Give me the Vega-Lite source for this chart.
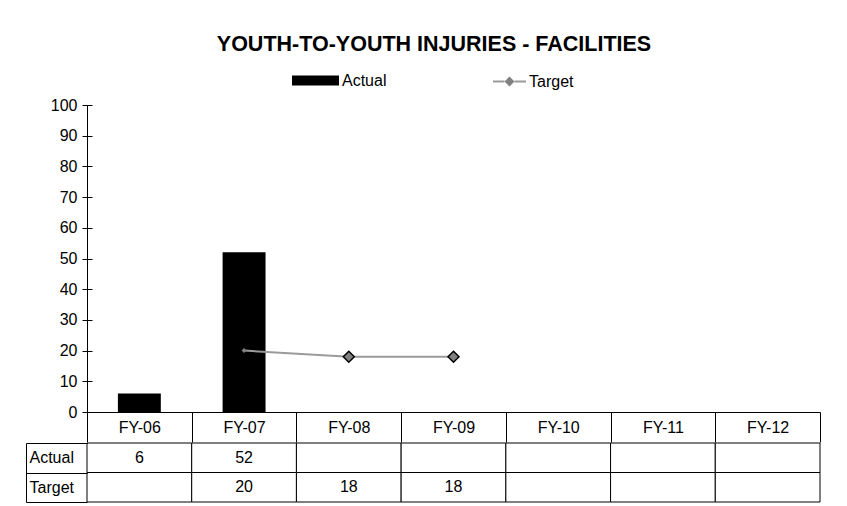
{
  "$schema": "https://vega.github.io/schema/vega-lite/v6.json",
  "background": "white",
  "padding": {"left": 25, "top": 33, "right": 20, "bottom": 4},
  "config": {
    "font": "Liberation Sans",
    "view": {"stroke": null},
    "axis": {"labelFont": "Liberation Sans", "labelFontSize": 16, "labelColor": "#000000", "domainColor": "#000000", "tickColor": "#000000", "grid": false},
    "legend": {"labelFont": "Liberation Sans", "labelFontSize": 16, "labelColor": "#000000", "padding": 0}
  },
  "title": {"text": "YOUTH-TO-YOUTH INJURIES - FACILITIES", "font": "Liberation Sans", "fontSize": 21.5, "fontWeight": "bold", "color": "#000000", "anchor": "middle", "dx": 11, "offset": 2},
  "datasets": {
    "fy": [
      {"cat": "FY-06", "Actual": 6, "Target": null},
      {"cat": "FY-07", "Actual": 52, "Target": 20},
      {"cat": "FY-08", "Actual": null, "Target": 18},
      {"cat": "FY-09", "Actual": null, "Target": 18},
      {"cat": "FY-10", "Actual": null, "Target": null},
      {"cat": "FY-11", "Actual": null, "Target": null},
      {"cat": "FY-12", "Actual": null, "Target": null}
    ]
  },
  "spacing": -8,
  "vconcat": [
    {
      "width": 733,
      "height": 307,
      "data": {"name": "fy"},
      "layer": [
        {
          "mark": {"type": "bar", "width": {"band": 0.41}},
          "encoding": {
            "x": {
              "field": "cat", "type": "nominal", "sort": null,
              "scale": {"domain": ["FY-06", "FY-07", "FY-08", "FY-09", "FY-10", "FY-11", "FY-12"], "paddingInner": 0, "paddingOuter": 0},
              "axis": {"title": null, "labelAngle": 0, "tickBand": "extent", "tickSize": 30, "labelPadding": -15, "labelBaseline": "middle", "domainWidth": 1, "tickWidth": 1, "grid": true, "gridWidth": 1, "gridColor": {"condition": {"test": "datum.extra != null", "value": "#000000"}, "value": "transparent"}}
            },
            "y": {
              "field": "Actual", "type": "quantitative",
              "scale": {"domain": [0, 100], "nice": false},
              "axis": {"title": null, "values": [0, 10, 20, 30, 40, 50, 60, 70, 80, 90, 100], "labelOverlap": false, "tickSize": 10, "offset": -5, "domain": false, "labelPadding": 5}
            },
            "fill": {
              "datum": "Actual",
              "scale": {"range": ["#000000"]},
              "legend": {
                "orient": "none", "legendX": 205, "legendY": -48, "title": null,
                "symbolType": "M-1,-0.21H1V0.21H-1Z", "symbolSize": 2209, "symbolStrokeWidth": 0, "labelOffset": 3
              }
            }
          }
        },
        {
          "mark": {"type": "line", "strokeWidth": 2},
          "encoding": {
            "x": {
              "field": "cat", "type": "nominal", "sort": null,
              "axis": {"title": null, "labelAngle": 0, "tickBand": "extent", "tickSize": 30, "labelPadding": -15, "labelBaseline": "middle", "domainWidth": 1, "tickWidth": 1, "grid": true, "gridWidth": 1, "gridColor": {"condition": {"test": "datum.extra != null", "value": "#000000"}, "value": "transparent"}}
            },
            "y": {
              "field": "Target", "type": "quantitative",
              "axis": {"title": null, "values": [0, 10, 20, 30, 40, 50, 60, 70, 80, 90, 100], "labelOverlap": false, "tickSize": 10, "offset": -5, "domain": false, "labelPadding": 5}
            },
            "stroke": {
              "datum": "Target",
              "scale": {"range": ["#9a9a9a"]},
              "legend": {
                "orient": "none", "legendX": 405, "legendY": -41, "title": null,
                "symbolType": "M-1,0H-0.3M0.3,0H1", "symbolSize": 1089, "symbolStrokeWidth": 2, "labelOffset": 2
              }
            }
          }
        },
        {
          "mark": {"type": "point", "filled": true, "fill": "#808080", "stroke": "#000000", "opacity": 1},
          "encoding": {
            "x": {
              "field": "cat", "type": "nominal", "sort": null,
              "axis": {"title": null, "labelAngle": 0, "tickBand": "extent", "tickSize": 30, "labelPadding": -15, "labelBaseline": "middle", "domainWidth": 1, "tickWidth": 1, "grid": true, "gridWidth": 1, "gridColor": {"condition": {"test": "datum.extra != null", "value": "#000000"}, "value": "transparent"}}
            },
            "y": {
              "field": "Target", "type": "quantitative",
              "axis": {"title": null, "values": [0, 10, 20, 30, 40, 50, 60, 70, 80, 90, 100], "labelOverlap": false, "tickSize": 10, "offset": -5, "domain": false, "labelPadding": 5}
            },
            "shape": {
              "datum": "Target marker",
              "scale": {"range": ["M0,-0.3L0.3,0L0,0.3L-0.3,0Z"]},
              "legend": {
                "orient": "none", "legendX": 405, "legendY": -41, "title": null,
                "symbolSize": 1089, "labelExpr": "''", "labelOffset": 2,
                "symbolFillColor": "#808080", "symbolStrokeColor": "#000000", "symbolStrokeWidth": 1.5, "symbolOpacity": 1
              }
            },
            "size": {"condition": {"test": "datum.cat === 'FY-07'", "value": 278}, "value": 1344},
            "strokeWidth": {"condition": {"test": "datum.cat === 'FY-07'", "value": 0}, "value": 1.5}
          }
        }
      ]
    },
    {
      "width": 733,
      "height": 59,
      "data": {"name": "fy"},
      "transform": [{"fold": ["Actual", "Target"], "as": ["row", "value"]}],
      "encoding": {
        "x": {
          "field": "cat", "type": "nominal", "sort": null,
          "scale": {"domain": ["FY-06", "FY-07", "FY-08", "FY-09", "FY-10", "FY-11", "FY-12"], "paddingInner": 0, "paddingOuter": 0},
          "axis": null
        },
        "y": {
          "field": "row", "type": "nominal", "sort": ["Actual", "Target"],
          "scale": {"domain": ["Actual", "Target"], "paddingInner": 0, "paddingOuter": 0},
          "axis": {"title": null, "orient": "left", "offset": 61, "tickBand": "extent", "tickSize": -61, "labelAlign": "left", "labelPadding": 58, "labelBaseline": "middle", "domainWidth": 1, "tickWidth": 1}
        }
      },
      "layer": [
        {"mark": {"type": "rect", "fill": "#ffffff", "stroke": "#000000", "strokeWidth": 1}},
        {
          "transform": [{"filter": "datum.value != null"}],
          "mark": {"type": "text", "fontSize": 16, "color": "#000000", "font": "Liberation Sans"},
          "encoding": {"text": {"field": "value", "type": "quantitative"}}
        }
      ]
    }
  ]
}
